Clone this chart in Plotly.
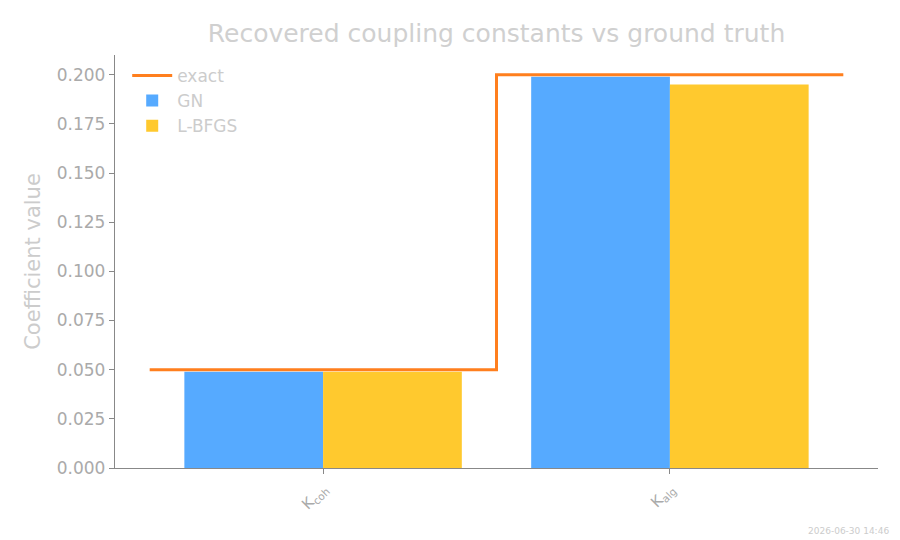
import plotly.graph_objects as go

categories = ["K<sub>coh</sub>", "K<sub>alg</sub>"]
exact = [0.05, 0.20]
gn = [0.0490, 0.1990]
lbfgs = [0.0490, 0.1950]
yticks = [0.0, 0.025, 0.05, 0.075, 0.1, 0.125, 0.15, 0.175, 0.2]

idx = list(range(len(categories)))
step_x = [i - 0.5 for i in idx] + [idx[-1] + 0.5]
step_y = exact + [exact[-1]]

fig = go.Figure()
fig.add_trace(go.Bar(x=idx, y=gn, name="GN", marker=dict(color="#56aaff", line_width=0), legendrank=2))
fig.add_trace(go.Bar(x=idx, y=lbfgs, name="L-BFGS", marker=dict(color="#ffc92e", line_width=0), legendrank=3))
fig.add_trace(go.Scatter(x=step_x, y=step_y, mode="lines", line=dict(shape="hv", color="#ff7f1e", width=3),
                         name="exact", legendrank=1))

font = "DejaVu Sans"
fig.update_layout(
    width=900, height=540,
    margin=dict(l=115, r=22, t=55, b=72),
    paper_bgcolor="white", plot_bgcolor="white",
    barmode="group", bargap=0.2, bargroupgap=0,
    font=dict(family=font, color="#aaaaaa"),
    title=dict(text="Recovered coupling constants vs ground truth", x=0.5, xref="paper", xanchor="center",
               y=0.938, yanchor="middle", font=dict(size=25, color="#d0d0d0", family=font)),
    legend=dict(x=0.016, y=0.993, xanchor="left", yanchor="top", bgcolor="rgba(0,0,0,0)",
                font=dict(size=17, color="#cccccc", family=font), traceorder="normal",
                itemwidth=40, tracegroupgap=0),
    xaxis=dict(range=[-0.6, 1.6], tickmode="array", tickvals=idx, ticktext=categories,
               tickangle=-45, showgrid=False, zeroline=False, showline=True, linecolor="#888888",
               linewidth=1.3, ticks="outside", ticklen=5, tickcolor="#888888",
               tickfont=dict(size=15, color="#aaaaaa")),
    yaxis=dict(range=[0, 0.21], tickmode="array", tickvals=yticks,
               ticktext=[f"{v:.3f}" for v in yticks], showgrid=False, zeroline=False,
               showline=True, linecolor="#888888", linewidth=1.3, ticks="outside", ticklen=5,
               tickcolor="#888888", tickfont=dict(size=17, color="#aaaaaa"),
               title=dict(text="Coefficient value", font=dict(size=21, color="#cccccc"), standoff=10)),
)
fig.add_annotation(text="2026-06-30 14:46", xref="paper", yref="paper", x=1.017, y=-0.153,
                   xanchor="right", yanchor="middle", showarrow=False,
                   font=dict(size=9, color="#cccccc", family=font))
fig.write_html("out.html")
